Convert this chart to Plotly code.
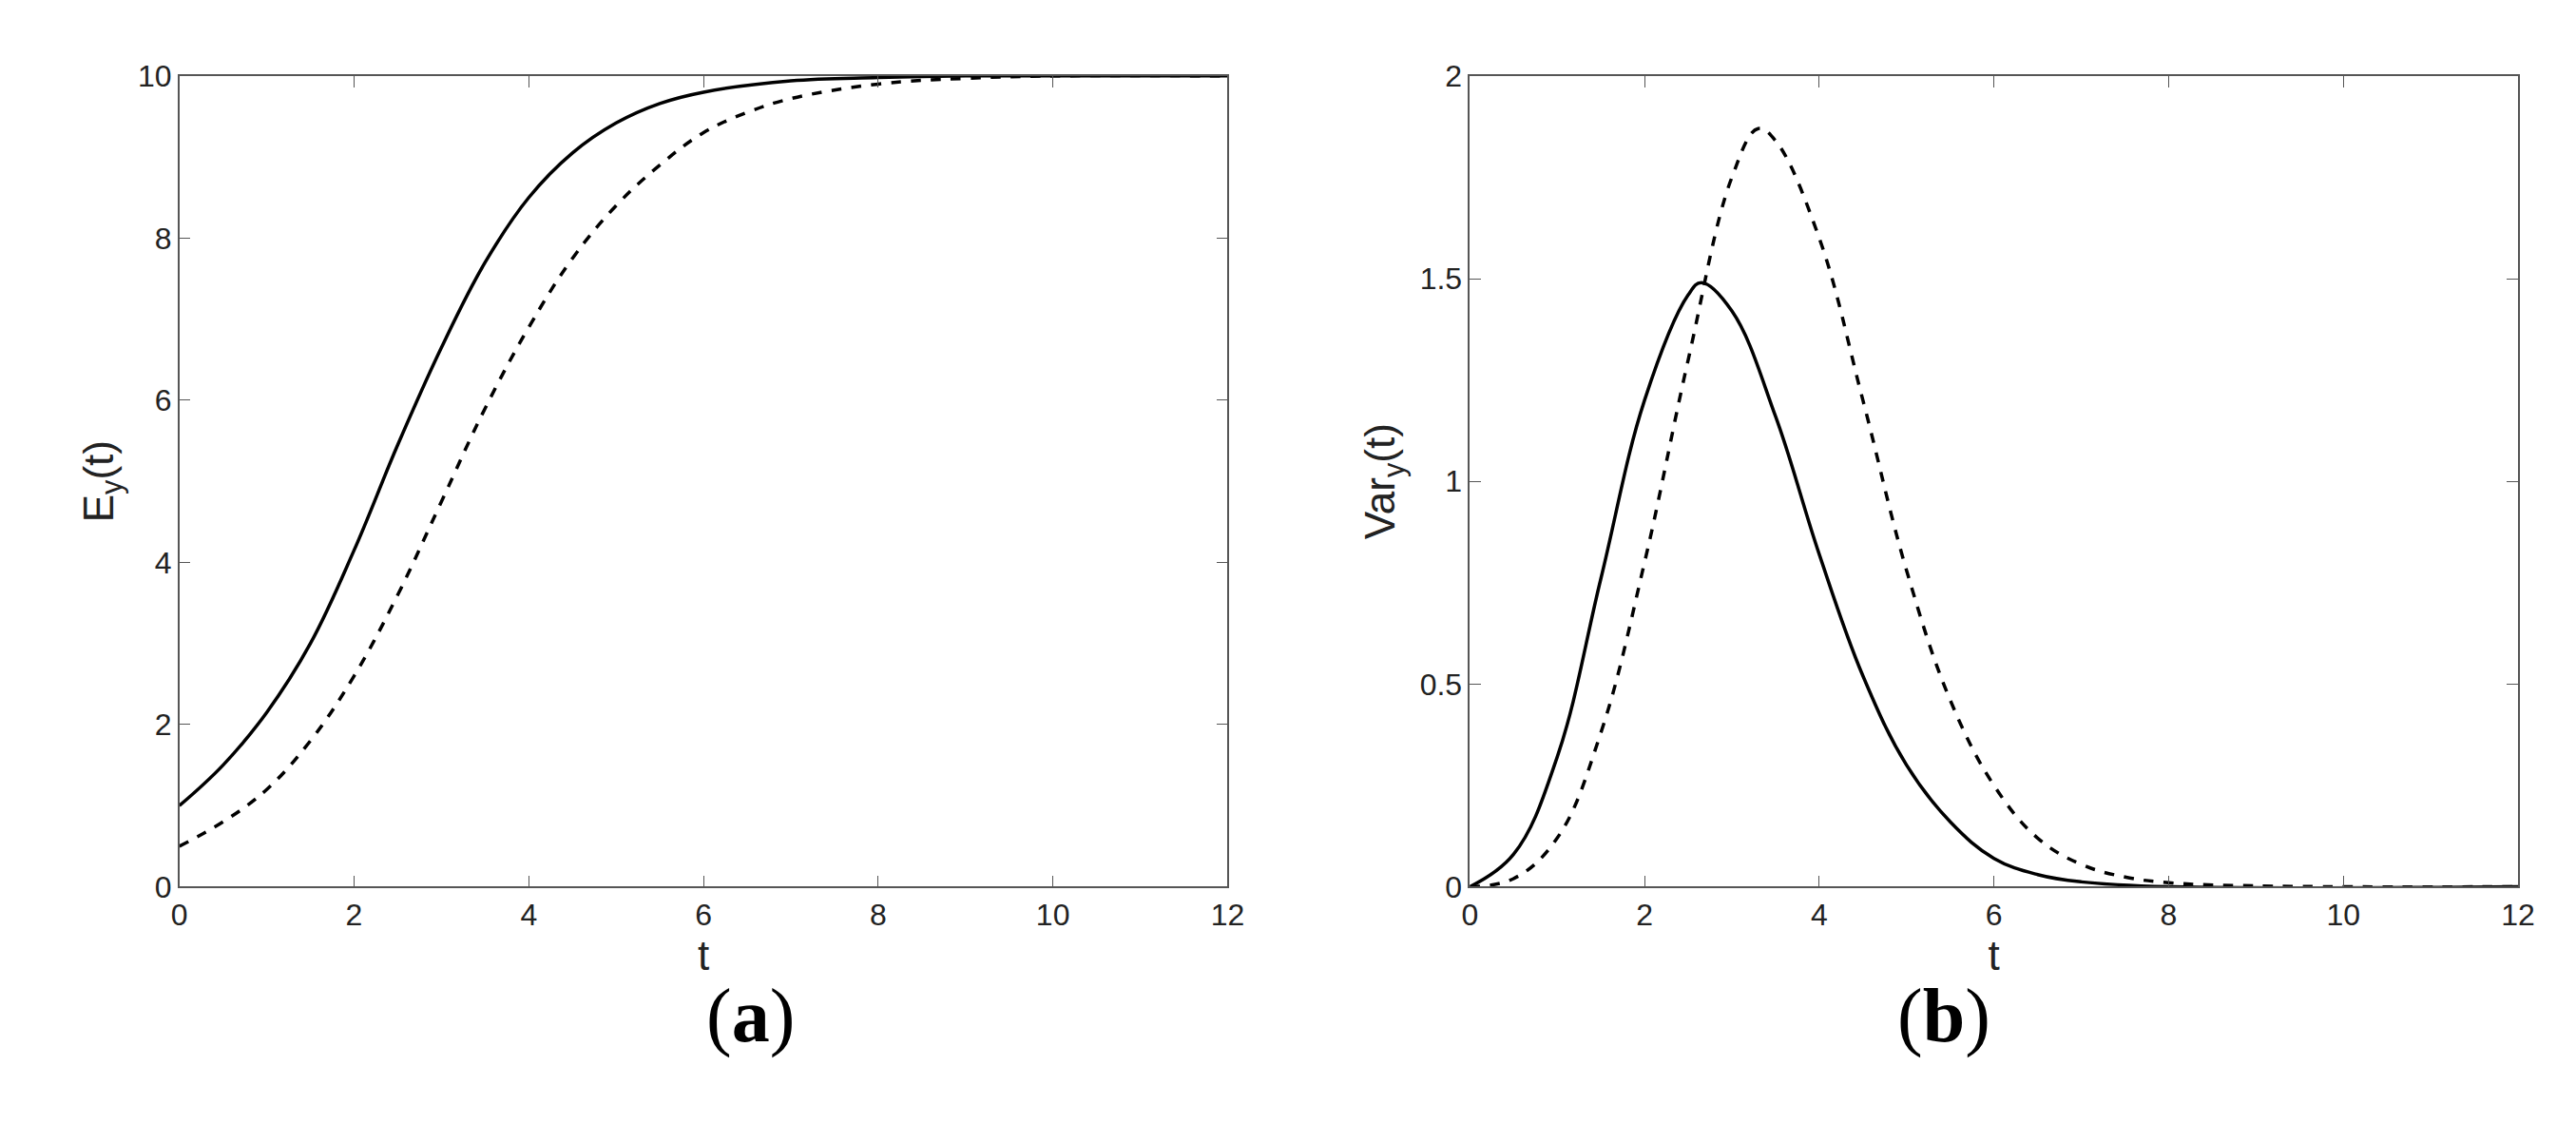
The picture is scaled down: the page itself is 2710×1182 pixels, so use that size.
import plotly.graph_objects as go

# panel (a): mean
t_a_solid = [0, 0.5, 1, 1.5, 2, 2.5, 3, 3.5, 4, 4.5, 5, 5.5, 6, 7, 8, 9, 10, 12]
e_solid = [1.0, 1.5, 2.15, 3.0, 4.15, 5.45, 6.65, 7.7, 8.5, 9.05, 9.42, 9.66, 9.8, 9.94, 9.98, 10, 10, 10]
t_a_dash = [0, 0.5, 1, 1.5, 2, 2.5, 3, 3.5, 4, 4.5, 5, 5.5, 6, 6.5, 7, 8, 9, 10, 12]
e_dash = [0.5, 0.8, 1.2, 1.8, 2.6, 3.6, 4.75, 5.9, 6.9, 7.75, 8.4, 8.9, 9.3, 9.55, 9.72, 9.9, 9.97, 10, 10]

# panel (b): variance
t_b_solid = [0, 0.5, 1, 1.5, 2, 2.5, 2.65, 3, 3.5, 4, 4.5, 5, 5.5, 6, 6.5, 7, 8, 12]
v_solid = [0, 0.08, 0.32, 0.76, 1.2, 1.46, 1.49, 1.42, 1.16, 0.82, 0.52, 0.3, 0.16, 0.07, 0.03, 0.012, 0, 0]
t_b_dash = [0, 0.5, 1, 1.5, 2, 2.5, 3, 3.3, 3.5, 4, 4.5, 5, 5.5, 6, 6.5, 7, 7.5, 8, 9, 12]
v_dash = [0, 0.02, 0.12, 0.38, 0.8, 1.3, 1.75, 1.87, 1.84, 1.6, 1.2, 0.78, 0.46, 0.25, 0.12, 0.055, 0.024, 0.01, 0.002, 0]

fig = go.Figure()
line_s = dict(color='black', width=3.5, shape='spline', smoothing=1.1)
line_d = dict(color='black', width=3.5, dash='dash', shape='spline', smoothing=1.1)
fig.add_trace(go.Scatter(x=t_a_solid, y=e_solid, mode='lines', line=line_s, xaxis='x', yaxis='y'))
fig.add_trace(go.Scatter(x=t_a_dash, y=e_dash, mode='lines', line=line_d, xaxis='x', yaxis='y'))
fig.add_trace(go.Scatter(x=t_b_solid, y=v_solid, mode='lines', line=line_s, xaxis='x2', yaxis='y2'))
fig.add_trace(go.Scatter(x=t_b_dash, y=v_dash, mode='lines', line=line_d, xaxis='x2', yaxis='y2'))

font = 'Liberation Sans, Arial'
ax = dict(showgrid=False, zeroline=False, showline=True, linecolor='#555', linewidth=1.5,
          mirror='ticks', ticks='inside', ticklen=12, tickcolor='#555',
          tickfont=dict(family=font, size=32, color='#222'))
xt = dict(text='t', font=dict(family=font, size=44, color='#222'), standoff=0)

fig.update_layout(
    width=2710, height=1182, plot_bgcolor='white', paper_bgcolor='white',
    showlegend=False, margin=dict(l=0, r=0, t=0, b=0),
    xaxis=dict(ax, domain=[0.064, 0.475], range=[0, 12], dtick=2, title=xt),
    yaxis=dict(ax, domain=[0.209, 0.953], range=[0, 10], dtick=2,
               title=dict(text='E<sub>y</sub>(t)', font=dict(family=font, size=44, color='#222'), standoff=12)),
    xaxis2=dict(ax, domain=[0.57, 0.981], range=[0, 12], dtick=2, title=xt, anchor='y2'),
    yaxis2=dict(ax, domain=[0.209, 0.953], range=[0, 2], tickvals=[0, 0.5, 1, 1.5, 2],
                ticktext=['0', '0.5', '1', '1.5', '2'], anchor='x2',
                title=dict(text='Var<sub>y</sub>(t)', font=dict(family=font, size=44, color='#222'), standoff=12)),
    annotations=[
        dict(text='(<b>a</b>)', x=0.27, y=0.05, xref='paper', yref='paper', showarrow=False,
             font=dict(family='Liberation Serif, Times New Roman', size=80, color='black')),
        dict(text='(<b>b</b>)', x=0.775, y=0.05, xref='paper', yref='paper', showarrow=False,
             font=dict(family='Liberation Serif, Times New Roman', size=80, color='black')),
    ],
)

fig.write_html("out.html")
